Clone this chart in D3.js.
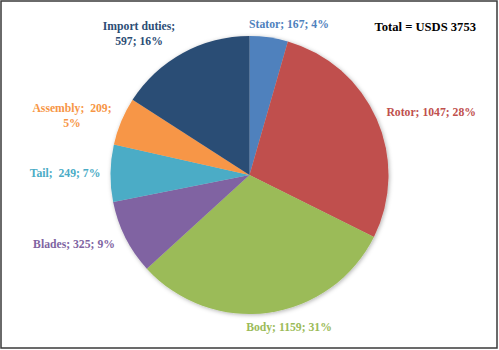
<!DOCTYPE html>
<html>
<head>
<meta charset="utf-8">
<script src="https://cdn.jsdelivr.net/npm/d3@7"></script>
<style>
  body { margin: 0; background: #fff; }
</style>
</head>
<body>
<div id="pieChart"></div>
<script>
// chart data
var categories = ["Stator", "Rotor", "Body", "Blades", "Tail", "Assembly", "Import duties"];
var costs = [167, 1047, 1159, 325, 249, 209, 597];
var shares = ["4%", "28%", "31%", "9%", "7%", "5%", "16%"];
var sliceColors = ["#4F81BD", "#C0504D", "#9BBB59", "#8064A2", "#4BACC6", "#F79646", "#2C4D75"];
var totalLabel = "Total = USDS 3753";

var width = 499, height = 350;
var cx = 249.5, cy = 175, radius = 139;
var labelFont = "'Liberation Serif', 'Times New Roman', serif";

// label text, split into lines like the original
var labelLines = [
  [categories[0] + "; " + costs[0] + "; " + shares[0]],
  [categories[1] + "; " + costs[1] + "; " + shares[1]],
  [categories[2] + "; " + costs[2] + "; " + shares[2]],
  [categories[3] + "; " + costs[3] + "; " + shares[3]],
  [categories[4] + ";  " + costs[4] + "; " + shares[4]],
  [categories[5] + ";  " + costs[5] + ";", shares[5]],
  [categories[6] + ";", costs[6] + "; " + shares[6]]
];
var labelPos = [
  {x: 249, y: 28, anchor: "start"},
  {x: 476, y: 116, anchor: "end"},
  {x: 289, y: 331, anchor: "middle"},
  {x: 74, y: 248, anchor: "middle"},
  {x: 65, y: 177, anchor: "middle"},
  {x: 72, y: 112, anchor: "middle"},
  {x: 139, y: 30, anchor: "middle"}
];

var svg = d3.select("#pieChart").append("svg")
    .attr("width", width)
    .attr("height", height);

var shadow = svg.append("defs").append("filter")
    .attr("id", "shadow")
    .attr("x", "-10%").attr("y", "-10%")
    .attr("width", "120%").attr("height", "120%");
shadow.append("feDropShadow")
    .attr("dx", 1).attr("dy", 1)
    .attr("stdDeviation", 2)
    .attr("flood-color", "#000")
    .attr("flood-opacity", 0.3);

// frame
svg.append("rect")
    .attr("x", 1).attr("y", 1)
    .attr("width", width - 3).attr("height", height - 3)
    .attr("fill", "#fff")
    .attr("stroke", "#3a3a3a")
    .attr("stroke-width", 1.5);

var pie = d3.pie().sort(null);
var arc = d3.arc().innerRadius(0).outerRadius(radius);

var g = svg.append("g")
    .attr("transform", "translate(" + cx + "," + cy + ")")
    .attr("filter", "url(#shadow)");

g.selectAll("path")
    .data(pie(costs))
  .enter().append("path")
    .attr("d", arc)
    .attr("fill", function(d, i) { return sliceColors[i]; });

// slice labels
var labels = svg.selectAll(".sliceLabel")
    .data(labelLines)
  .enter().append("text")
    .attr("class", "sliceLabel")
    .attr("x", function(d, i) { return labelPos[i].x; })
    .attr("y", function(d, i) { return labelPos[i].y; })
    .attr("text-anchor", function(d, i) { return labelPos[i].anchor; })
    .attr("fill", function(d, i) { return sliceColors[i]; })
    .style("font-family", labelFont)
    .style("font-weight", "bold")
    .style("font-size", "11.7px")
    .style("white-space", "pre");

labels.each(function(lines, i) {
  var t = d3.select(this);
  lines.forEach(function(line, k) {
    t.append("tspan")
        .attr("x", labelPos[i].x)
        .attr("dy", k === 0 ? 0 : 15)
        .text(line);
  });
});

svg.append("text")
    .attr("x", 476)
    .attr("y", 31)
    .attr("text-anchor", "end")
    .attr("fill", "#000")
    .style("font-family", labelFont)
    .style("font-weight", "bold")
    .style("font-size", "12.6px")
    .text(totalLabel);
</script>
</body>
</html>
